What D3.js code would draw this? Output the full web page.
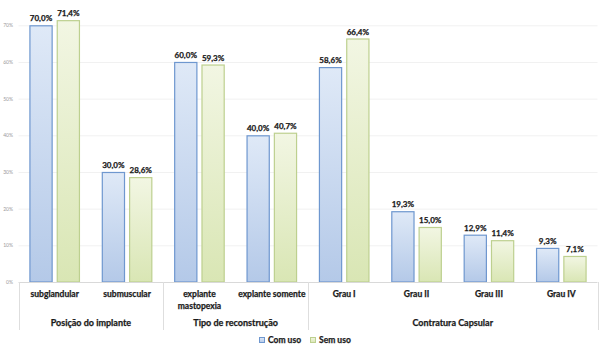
<!DOCTYPE html>
<html><head><meta charset="utf-8">
<script src="https://cdn.jsdelivr.net/npm/d3@7"></script>
<style>
html,body{margin:0;padding:0;background:#fff;}
svg{display:block;font-family:Lato,"Open Sans",sans-serif;}
.heavy{stroke:#1a1a1a;stroke-width:0.25px;}
</style></head>
<body><svg id="c" width="600" height="350"></svg>
<script>
const categories = ["subglandular","submuscular","explante mastopexia","explante somente","Grau I","Grau II","Grau III","Grau IV"];
const categoryLines = [["subglandular"],["submuscular"],["explante","mastopexia"],["explante somente"],["Grau I"],["Grau II"],["Grau III"],["Grau IV"]];
const groups = ["Posição do implante","Tipo de reconstrução","Contratura Capsular"];
const groupMembers = [["subglandular","submuscular"],["explante mastopexia","explante somente"],["Grau I","Grau II","Grau III","Grau IV"]];
const seriesNames = ["Com uso","Sem uso"];
const comUso = [70.0,30.0,60.0,40.0,58.6,19.3,12.9,9.3];
const semUso = [71.4,28.6,59.3,40.7,66.4,15.0,11.4,7.1];
const yTicks = [0,10,20,30,40,50,60,70];

const svg = d3.select("#c");
const defs = svg.append("defs");
const gradB = defs.append("linearGradient").attr("id","gB").attr("x1",0).attr("y1",0).attr("x2",0).attr("y2",1);
gradB.append("stop").attr("offset","0%").attr("stop-color","#dfe9f7");
gradB.append("stop").attr("offset","100%").attr("stop-color","#b4c9e8");
const gradG = defs.append("linearGradient").attr("id","gG").attr("x1",0).attr("y1",0).attr("x2",0).attr("y2",1);
gradG.append("stop").attr("offset","0%").attr("stop-color","#f2f6e3");
gradG.append("stop").attr("offset","100%").attr("stop-color","#d9e6b4");
const fills = {"Com uso":"url(#gB)","Sem uso":"url(#gG)"};
const strokes = {"Com uso":"#6e97cf","Sem uso":"#bdd08f"};

const pLeft = 18.5, pRight = 597.5, pBase = 282, pTop = 25.3;
const x0 = d3.scaleBand().domain(categories).range([pLeft,pRight]).padding(0);
const x1 = d3.scaleBand().domain(seriesNames).range([0,x0.bandwidth()]).paddingInner(0.15).paddingOuter(0.4);
const y = d3.scaleLinear().domain([0,70]).range([pBase,pTop]);

// gridlines
svg.append("g").selectAll("line").data(yTicks.slice(1)).join("line")
  .attr("x1",pLeft).attr("x2",pRight).attr("y1",d=>y(d)+0.5).attr("y2",d=>y(d)+0.5)
  .attr("stroke","#f1f1f1").attr("stroke-width",1);

// y axis labels
const yAxis = d3.axisLeft(y).tickValues(yTicks).tickFormat(d=>d+"%").tickSize(0).tickPadding(0);
const ga = svg.append("g").attr("transform","translate(13,0)").call(yAxis);
ga.select(".domain").remove();
ga.selectAll("text").attr("font-size",5).attr("fill","#9a9a9a").attr("font-family","Lato,sans-serif");

// bars
const data = categories.map((c,i)=>({cat:c, vals:[{s:"Com uso",v:comUso[i]},{s:"Sem uso",v:semUso[i]}]}));
const cg = svg.append("g").selectAll("g").data(data).join("g")
  .attr("transform",d=>`translate(${x0(d.cat)},0)`);
cg.selectAll("rect").data(d=>d.vals).join("rect")
  .attr("x",d=>x1(d.s)+0.5).attr("y",d=>y(d.v)+0.5)
  .attr("width",x1.bandwidth()-1).attr("height",d=>pBase-y(d.v)-0.5)
  .attr("fill",d=>fills[d.s]).attr("stroke",d=>strokes[d.s]).attr("stroke-width",1.2);
cg.selectAll("text").data(d=>d.vals).join("text").attr("class","heavy")
  .attr("x",d=>x1(d.s)+x1.bandwidth()/2).attr("y",d=>y(d.v)-4)
  .attr("text-anchor","middle").attr("font-size",8).attr("font-weight","bold").attr("fill","#1a1a1a")
  .text(d=>d.v.toFixed(1).replace(".",",")+"%");

// x axis line
svg.append("line").attr("x1",pLeft).attr("x2",pRight).attr("y1",pBase+0.5).attr("y2",pBase+0.5)
  .attr("stroke","#d9d9d9").attr("stroke-width",1);

// group dividers
const divX = [pLeft].concat(groupMembers.map(m=>x0(m[m.length-1])+x0.bandwidth()));
svg.append("g").selectAll("line").data(divX).join("line")
  .attr("x1",d=>Math.round(d)+0.5).attr("x2",d=>Math.round(d)+0.5).attr("y1",pBase).attr("y2",330)
  .attr("stroke","#dedede").attr("stroke-width",1);

// category labels
const cl = svg.append("g").selectAll("text").data(categories).join("text").attr("class","heavy")
  .attr("x",d=>x0(d)+x0.bandwidth()/2).attr("y",297)
  .attr("text-anchor","middle").attr("font-size",8.5).attr("font-weight","bold").attr("fill","#1a1a1a");
cl.each(function(d,i){
  const t=d3.select(this);
  categoryLines[i].forEach((ln,j)=>{
    t.append("tspan").attr("x",x0(d)+x0.bandwidth()/2).attr("dy",j===0?0:12).text(ln);
  });
});

// group labels
svg.append("g").selectAll("text").data(groups).join("text").attr("class","heavy")
  .attr("x",(d,i)=>{const m=groupMembers[i];return (x0(m[0])+x0(m[m.length-1])+x0.bandwidth())/2;})
  .attr("y",326).attr("text-anchor","middle").attr("font-size",9).attr("font-weight","bold").attr("fill","#1a1a1a")
  .text(d=>d);

// legend
const lg = svg.append("g");
const legX = [259,310];
seriesNames.forEach((s,i)=>{
  lg.append("rect").attr("x",legX[i]+0.5).attr("y",337.5).attr("width",5).attr("height",5)
    .attr("fill",fills[s]).attr("stroke",strokes[s]).attr("stroke-width",1);
  lg.append("text").attr("class","heavy").attr("x",legX[i]+9).attr("y",343).attr("font-size",8.5).attr("font-weight","bold").attr("fill","#1a1a1a").text(s);
});
</script></body></html>
